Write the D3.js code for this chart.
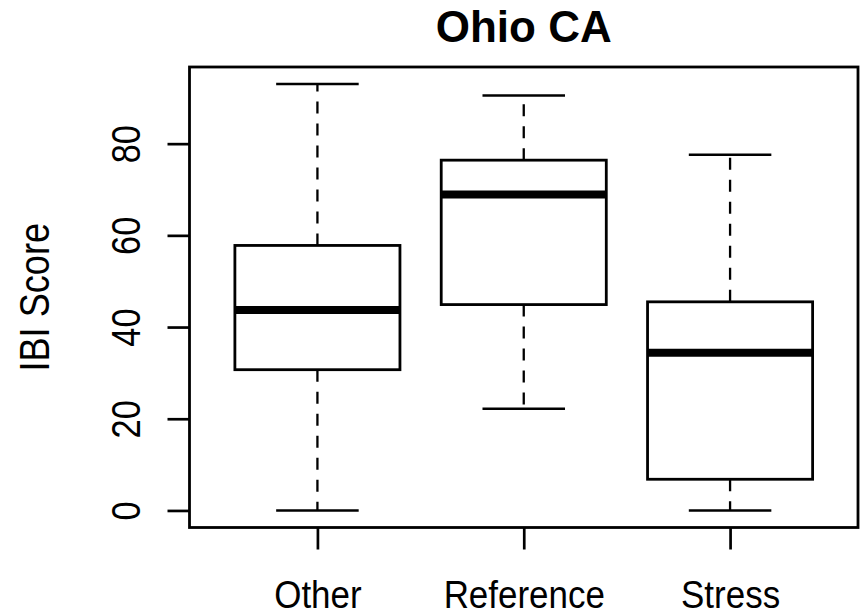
<!DOCTYPE html>
<html>
<head>
<meta charset="utf-8">
<script src="https://cdn.jsdelivr.net/npm/d3@7"></script>
<style>
  body { margin: 0; background: #fff; }
  svg { display: block; }
  text { font-family: "Liberation Sans", Arial, sans-serif; fill: #000; }
</style>
</head>
<body>
<div id="chart"></div>
<script>
// group names and box statistics
var groups = ["Other", "Reference", "Stress"];
var whiskerLow = [0, 22.2, 0];
var q1 = [30.7, 44.9, 6.8];
var median = [43.7, 68.9, 34.4];
var q3 = [57.8, 76.4, 45.5];
var whiskerHigh = [93.0, 90.5, 77.6];
var yTicks = [0, 20, 40, 60, 80];

var width = 865, height = 616;
var margin = { top: 67, right: 7, bottom: 88.5, left: 189.5 };
var w = width - margin.left - margin.right;
var h = height - margin.top - margin.bottom;

var boxes = groups.map(function(g, i) {
  return { name: g, pos: i + 1, lo: whiskerLow[i], q1: q1[i], med: median[i], q3: q3[i], hi: whiskerHigh[i] };
});

// R style: axis ranges padded by 4% on each side
var lo = d3.min(whiskerLow), hi = d3.max(whiskerHigh);
var pad = (hi - lo) * 0.04;
var y = d3.scaleLinear().domain([lo - pad, hi + pad]).range([h, 0]);
var xPad = groups.length * 0.04;
var x = d3.scaleLinear().domain([0.5 - xPad, groups.length + 0.5 + xPad]).range([0, w]);

var svg = d3.select('#chart')
  .append('svg')
  .attr('width', width)
  .attr('height', height);

var g = svg.append('g')
  .attr('transform', 'translate(' + margin.left + ',' + margin.top + ')');

// title
svg.append('text')
  .attr('x', margin.left + w / 2)
  .attr('y', 42)
  .attr('text-anchor', 'middle')
  .style('font-size', '44px')
  .style('font-weight', 'bold')
  .text('Ohio CA');

// y axis
var yAxis = d3.axisLeft(y).tickValues(yTicks).tickSize(22).tickFormat(d3.format('d'));
var yg = g.append('g').call(yAxis);
yg.select('.domain').remove();
yg.selectAll('.tick line').attr('stroke', '#000').attr('stroke-width', 2.7);
yg.selectAll('.tick text')
  .attr('x', null).attr('dy', null)
  .attr('text-anchor', 'middle')
  .attr('transform', 'translate(-50,0) rotate(-90) scale(0.86,1)')
  .style('font-size', '40px')
  .style('font-family', '"Liberation Sans", Arial, sans-serif');

// x axis
var xAxis = d3.axisBottom(x).tickValues(boxes.map(function(d) { return d.pos; }))
  .tickSize(22)
  .tickFormat(function(d) { return groups[d - 1]; });
var xg = g.append('g').attr('transform', 'translate(0,' + h + ')').call(xAxis);
xg.select('.domain').remove();
xg.selectAll('.tick line').attr('stroke', '#000').attr('stroke-width', 2.7);
xg.selectAll('.tick text')
  .attr('y', null).attr('dy', null)
  .attr('text-anchor', 'middle')
  .attr('transform', 'translate(0,80) scale(0.92,1)')
  .style('font-size', '38px')
  .style('font-family', '"Liberation Sans", Arial, sans-serif');

// y axis title
svg.append('text')
  .attr('text-anchor', 'middle')
  .attr('transform', 'translate(49,' + (margin.top + h / 2) + ') rotate(-90) scale(0.86,1)')
  .style('font-size', '42px')
  .text('IBI Score');

// boxes
var bg = g.selectAll('.box')
  .data(boxes)
  .enter()
  .append('g')
  .attr('class', 'box');

// whiskers (dashed), from hinge out to whisker end
bg.append('line')
  .attr('x1', function(d) { return x(d.pos); })
  .attr('x2', function(d) { return x(d.pos); })
  .attr('y1', function(d) { return y(d.q3); })
  .attr('y2', function(d) { return y(d.hi); })
  .attr('stroke', '#000').attr('stroke-width', 2.3).attr('stroke-dasharray', '12,10');
bg.append('line')
  .attr('x1', function(d) { return x(d.pos); })
  .attr('x2', function(d) { return x(d.pos); })
  .attr('y1', function(d) { return y(d.q1); })
  .attr('y2', function(d) { return y(d.lo); })
  .attr('stroke', '#000').attr('stroke-width', 2.3).attr('stroke-dasharray', '12,10');

// caps
['hi', 'lo'].forEach(function(k) {
  bg.append('line')
    .attr('x1', function(d) { return x(d.pos - 0.2); })
    .attr('x2', function(d) { return x(d.pos + 0.2); })
    .attr('y1', function(d) { return y(d[k]); })
    .attr('y2', function(d) { return y(d[k]); })
    .attr('stroke', '#000').attr('stroke-width', 2.5);
});

// box
bg.append('rect')
  .attr('x', function(d) { return x(d.pos - 0.4); })
  .attr('width', function(d) { return x(d.pos + 0.4) - x(d.pos - 0.4); })
  .attr('y', function(d) { return y(d.q3); })
  .attr('height', function(d) { return y(d.q1) - y(d.q3); })
  .attr('fill', '#fff')
  .attr('stroke', '#000').attr('stroke-width', 2.8);

// median
bg.append('line')
  .attr('x1', function(d) { return x(d.pos - 0.4); })
  .attr('x2', function(d) { return x(d.pos + 0.4); })
  .attr('y1', function(d) { return y(d.med); })
  .attr('y2', function(d) { return y(d.med); })
  .attr('stroke', '#000').attr('stroke-width', 8);

// frame
g.append('rect')
  .attr('x', 0).attr('y', 0)
  .attr('width', w).attr('height', h)
  .attr('fill', 'none')
  .attr('stroke', '#000').attr('stroke-width', 2.8);
</script>
</body>
</html>
